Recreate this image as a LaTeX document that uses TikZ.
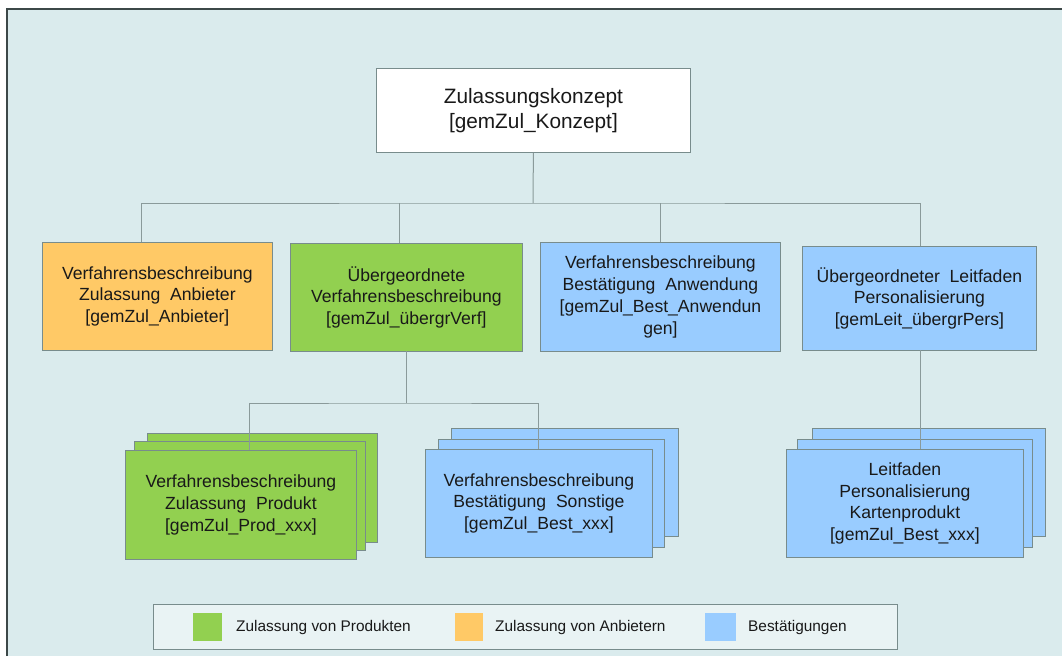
\documentclass[tikz,border=0pt]{standalone}
\usepackage{fontspec}
\setmainfont{Liberation Sans}
\definecolor{bgc}{RGB}{218,235,237}
\definecolor{framec}{RGB}{60,72,72}
\definecolor{linec}{RGB}{138,154,154}
\definecolor{boxline}{RGB}{120,140,140}
\definecolor{orangec}{RGB}{255,201,102}
\definecolor{greenc}{RGB}{146,208,80}
\definecolor{bluec}{RGB}{153,204,255}
\definecolor{txtc}{RGB}{25,25,25}
\tikzset{
  boxbase/.style={draw=boxline, line width=0.8pt, anchor=north west, inner sep=0pt, align=center, text=txtc,
    font=\fontsize{17.6pt}{21.7pt}\selectfont},
  topbox/.style={boxbase, fill=white, font=\fontsize{20.8pt}{25pt}\selectfont},
  orangebox/.style={boxbase, fill=orangec},
  greenbox/.style={boxbase, fill=greenc},
  bluebox/.style={boxbase, fill=bluec},
  conn/.style={draw=linec, line width=1pt},
  swatch/.style={anchor=north west, inner sep=0pt, draw=none},
  legtext/.style={anchor=west, inner sep=0pt, text=txtc, font=\fontsize{15.4pt}{18pt}\selectfont}
}
\begin{document}
\begin{tikzpicture}[x=1pt,y=-1pt]
\useasboundingbox (0,0) rectangle (1062,656);
\fill[white] (0,0) rectangle (1062,656);
\fill[bgc] (7,9) rectangle (1062,656);
\draw[framec, line width=1.2pt] (7,656) -- (7,9) -- (1062,9);

% top node
\node[topbox, minimum width=314pt, minimum height=84pt] (top) at (376,68) {Zulassungskonzept\\{[}gemZul\_Konzept{]}};

% level 1
\node[orangebox, minimum width=230pt, minimum height=108pt] (anb) at (42,242) {Verfahrensbeschreibung\\Zulassung\ \ Anbieter\\{[}gemZul\_Anbieter{]}};
\node[greenbox, minimum width=232pt, minimum height=108pt] (verf) at (290,243) {Übergeordnete\\Verfahrensbeschreibung\\{[}gemZul\_übergrVerf{]}};
\node[bluebox, minimum width=240pt, minimum height=109pt] (anw) at (540,242) {Verfahrensbeschreibung\\Bestätigung\ \ Anwendung\\{[}gemZul\_Best\_Anwendun\\gen{]}};
\node[bluebox, minimum width=234pt, minimum height=104pt] (pers) at (802,246) {Übergeordneter\ \ Leitfaden\\Personalisierung\\{[}gemLeit\_übergrPers{]}};

% level 2 stacks
\node[greenbox, minimum width=230pt, minimum height=109pt] (prodB) at (147,433) {};
\node[greenbox, minimum width=231pt, minimum height=109pt] (prodA) at (134,441) {};
\node[greenbox, minimum width=231pt, minimum height=109pt] (prod) at (125,450) {Verfahrensbeschreibung\\Zulassung\ \ Produkt\\{[}gemZul\_Prod\_xxx{]}};

\node[bluebox, minimum width=227pt, minimum height=108pt] (sonB) at (451,428) {};
\node[bluebox, minimum width=226pt, minimum height=108pt] (sonA) at (438,439) {};
\node[bluebox, minimum width=227pt, minimum height=108pt] (son) at (425,449) {Verfahrensbeschreibung\\Bestätigung\ \ Sonstige\\{[}gemZul\_Best\_xxx{]}};

\node[bluebox, minimum width=233pt, minimum height=108pt] (kartB) at (812,428) {};
\node[bluebox, minimum width=235pt, minimum height=108pt] (kartA) at (797,439) {};
\node[bluebox, minimum width=237pt, minimum height=108pt] (kart) at (786,449) {Leitfaden\\Personalisierung\\Kartenprodukt\\{[}gemZul\_Best\_xxx{]}};

% connector coordinates
\coordinate (bar1) at (533,203);
\coordinate (anbT) at (141,242);
\coordinate (verfT) at (399,243);
\coordinate (anwT) at (660,242);
\coordinate (persT) at (920,246);
\coordinate (verfB) at (406,351);
\coordinate (bar2) at (406,403);
\coordinate (prodT) at (249,450);
\coordinate (sonT) at (538,449);
\coordinate (persB) at (920,350);
\coordinate (kartT) at (920,449);

\draw[conn] (top.south) -- (bar1);
\draw[conn] (anbT) |- (bar1) -| (persT);
\draw[conn] (verfT) -- (verfT |- bar1);
\draw[conn] (anwT) -- (anwT |- bar1);
\draw[conn] (verfB) -- (bar2);
\draw[conn] (prodT) |- (bar2) -| (sonT);
\draw[conn] (persB) -- (kartT);

% legend
\node[draw=boxline, line width=0.8pt, anchor=north west, inner sep=0pt, minimum width=744pt, minimum height=45pt, fill=bgc!60!white] (leg) at (153,604) {};
\node[swatch, fill=greenc, minimum width=29pt, minimum height=28pt] (sw1) at (193,613) {};
\node[legtext] (lt1) at (236,628) {Zulassung von Produkten};
\node[swatch, fill=orangec, minimum width=28pt, minimum height=28pt] (sw2) at (455,613) {};
\node[legtext] (lt2) at (495,628) {Zulassung von Anbietern};
\node[swatch, fill=bluec, minimum width=31pt, minimum height=28pt] (sw3) at (705,613) {};
\node[legtext] (lt3) at (748,628) {Bestätigungen};
\end{tikzpicture}
\end{document}
